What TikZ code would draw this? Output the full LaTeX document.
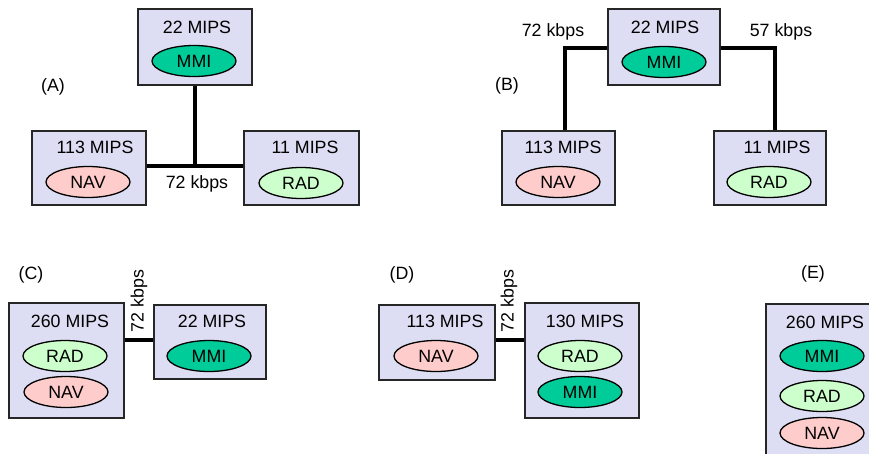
\documentclass[tikz,border=0pt]{standalone}
\usepackage{fontspec}
\setmainfont{Liberation Sans}
\usetikzlibrary{shapes.geometric}
\definecolor{boxfill}{RGB}{221,221,243}
\definecolor{mmicol}{RGB}{0,204,153}
\definecolor{navcol}{RGB}{255,204,204}
\definecolor{radcol}{RGB}{204,255,204}
\tikzset{
  procbox/.style={draw=black!85, line width=1.5pt, fill=boxfill, inner sep=0pt, anchor=north west},
  task/.style={ellipse, draw=black, line width=1.3pt, minimum width=84pt, minimum height=31pt, inner sep=0pt, font=\fontsize{17.8}{20}\selectfont},
  mmi/.style={task, fill=mmicol},
  nav/.style={task, fill=navcol},
  rad/.style={task, fill=radcol},
  txt/.style={inner sep=0pt, font=\fontsize{17.8}{20}\selectfont},
  conn/.style={line width=4pt, black}
}
\begin{document}
\begin{tikzpicture}[x=1pt,y=-1pt]
\useasboundingbox (0,0) rectangle (869,453);
% ---------- (A)
\node[txt] (la) at (53,87) {(A)};
\node[procbox, minimum width=114pt, minimum height=76pt] (a1) at (137,8) {};
\node[txt] (a1t) at (197,27) {22 MIPS};
\node[mmi] (a1m) at (194,61) {MMI};
\node[procbox, minimum width=114pt, minimum height=74pt] (a2) at (31,130) {};
\node[txt] (a2t) at (95,147) {113 MIPS};
\node[nav] (a2n) at (88,182) {NAV};
\node[procbox, minimum width=115pt, minimum height=74pt] (a3) at (243,130) {};
\node[txt] (a3t) at (305,147) {11 MIPS};
\node[rad] (a3r) at (301,183) {RAD};
\coordinate (aj) at (195,166);
\draw[conn] (a1.south -| aj) -- (aj);
\draw[conn] (a2.east |- aj) -- (a3.west |- aj);
\node[txt] (ak) at (197,184) {72 kbps};
% ---------- (B)
\node[txt] (lb) at (507,86) {(B)};
\node[procbox, minimum width=112pt, minimum height=76pt] (b1) at (607,8) {};
\node[txt] (b1t) at (665,27) {22 MIPS};
\node[mmi] (b1m) at (664,62) {MMI};
\node[procbox, minimum width=113pt, minimum height=74pt] (b2) at (501,130) {};
\node[txt] (b2t) at (563,147) {113 MIPS};
\node[nav] (b2n) at (558,182) {NAV};
\node[procbox, minimum width=112pt, minimum height=74pt] (b3) at (713,130) {};
\node[txt] (b3t) at (777,147) {11 MIPS};
\node[rad] (b3r) at (769,182) {RAD};
\coordinate (bl) at (565,48);
\coordinate (br) at (775,48);
\draw[conn] (b1.west |- bl) -| (bl |- b2.north);
\draw[conn] (b1.east |- br) -| (br |- b3.north);
\node[txt] (bk1) at (553,32) {72 kbps};
\node[txt] (bk2) at (781,32) {57 kbps};
% ---------- (C)
\node[txt] (lc) at (31,275) {(C)};
\node[procbox, minimum width=115pt, minimum height=115pt] (c1) at (8,302) {};
\node[txt] (c1t) at (70,321) {260 MIPS};
\node[rad] (c1r) at (65,356) {RAD};
\node[nav] (c1n) at (66,392) {NAV};
\node[procbox, minimum width=112pt, minimum height=74pt] (c2) at (153,304) {};
\node[txt] (c2t) at (212,321) {22 MIPS};
\node[mmi] (c2m) at (209,356) {MMI};
\coordinate (cj) at (138,340);
\draw[conn] (c1.east |- cj) -- (c2.west |- cj);
\node[txt, rotate=90] (ck) at (139,301) {72 kbps};
% ---------- (D)
\node[txt] (ld) at (402,275) {(D)};
\node[procbox, minimum width=116pt, minimum height=75pt] (d1) at (378,304) {};
\node[txt] (d1t) at (445,321) {113 MIPS};
\node[nav] (d1n) at (436,356) {NAV};
\node[procbox, minimum width=114pt, minimum height=115pt] (d2) at (524,302) {};
\node[txt] (d2t) at (585,321) {130 MIPS};
\node[rad] (d2r) at (580,356) {RAD};
\node[mmi] (d2m) at (580,392) {MMI};
\coordinate (dj) at (509,340);
\draw[conn] (d1.east |- dj) -- (d2.west |- dj);
\node[txt, rotate=90] (dk) at (509,301) {72 kbps};
% ---------- (E)
\node[txt] (le) at (813,274) {(E)};
\node[procbox, minimum width=120pt, minimum height=160pt] (e1) at (765,303) {};
\node[txt] (e1t) at (825,322) {260 MIPS};
\node[mmi] (e1m) at (822,356) {MMI};
\node[rad] (e1r) at (822,396) {RAD};
\node[nav] (e1n) at (822,433) {NAV};
\end{tikzpicture}
\end{document}
